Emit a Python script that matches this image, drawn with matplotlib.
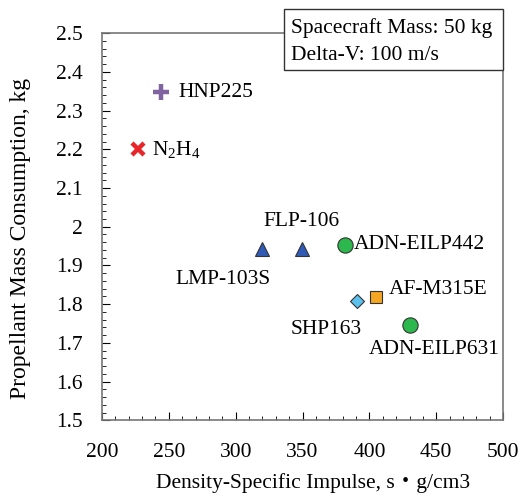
import matplotlib
matplotlib.use("Agg")
import matplotlib.pyplot as plt
from matplotlib.ticker import MultipleLocator
from matplotlib.patches import Rectangle

plt.rcParams['font.family'] = ['Liberation Serif', 'Noto Sans CJK JP']
plt.rcParams['mathtext.fontset'] = 'custom'
plt.rcParams['mathtext.rm'] = 'Liberation Serif'
plt.rcParams['mathtext.it'] = 'Liberation Serif:italic'

# propellant data: density-specific impulse vs propellant mass
names = ['HNP225', r'$\mathrm{N_2H_4}$', 'LMP-103S', 'FLP-106', 'ADN-EILP442',
         'AF-M315E', 'SHP163', 'ADN-EILP631']
isp_density = [244.5, 227, 319.5, 349.5, 382, 405, 390.5, 430.5]
prop_mass = [2.347, 2.200, 1.943, 1.943, 1.953, 1.819, 1.807, 1.747]

markers = ['+', 'x', '^', '^', 'o', 's', 'D', 'o']
colors = ['#8064A2', '#E8262A', '#2F5BB7', '#2F5BB7', '#2DB84D',
          '#F5A623', '#5BC0EB', '#2DB84D']
sizes = [11, 9, 10, 10, 11, 9, 7, 11]

# label offsets in points (dx, dy) and alignment
label_pos = [(12, 0, 'left'), (10, 0, 'left'), (-28, -22, 'center'),
             (0, 20, 'center'), (6, 0, 'left'), (9, 5, 'left'),
             (-22, -20, 'center'), (17, -18, 'center')]

fig = plt.figure(figsize=(5.23, 4.94), dpi=100)
ax = fig.add_axes([0.195, 0.149, 0.767, 0.784])

for i in range(len(names)):
    m = markers[i]
    if m in ('+', 'x'):
        ax.plot(isp_density[i], prop_mass[i], marker=m, color=colors[i],
                markersize=sizes[i], mew=3.2, linestyle='none')
    else:
        ax.plot(isp_density[i], prop_mass[i], marker=m, color=colors[i],
                markersize=sizes[i], markeredgecolor='#333333', mew=0.8,
                linestyle='none')
    dx, dy, ha = label_pos[i]
    ax.annotate(names[i], (isp_density[i], prop_mass[i]), xytext=(dx, dy),
                textcoords='offset points', ha=ha, va='center', fontsize=15.5)

ax.set_xlim(200, 500)
ax.set_ylim(1.5, 2.5)
ax.xaxis.set_major_locator(MultipleLocator(50))
ax.xaxis.set_minor_locator(MultipleLocator(10))
ax.yaxis.set_major_locator(MultipleLocator(0.1))
ax.yaxis.set_minor_locator(MultipleLocator(0.02))
ax.yaxis.set_major_formatter(plt.FuncFormatter(lambda v, p: f'{v:g}'))
ax.tick_params(which='both', direction='in', top=False, right=False,
               labelsize=15.5)
ax.tick_params(axis='x', pad=16)
ax.tick_params(axis='y', pad=14)
ax.tick_params(which='major', length=6)
ax.tick_params(which='minor', length=3)
for s in ax.spines.values():
    s.set_color('#777777')
    s.set_linewidth(1.2)

ax.set_xlabel('Density-Specific Impulse, s・g/cm3', fontsize=15.5, va='center')
ax.xaxis.set_label_coords(0.526, -0.161)
ax.set_ylabel('Propellant Mass Consumption, kg', fontsize=17, va='center')
ax.yaxis.set_label_coords(-0.204, 0.469)

# condition box (partly above the axes)
fig.patches.append(Rectangle((284 / 523, 1 - 70 / 494), 219 / 523, 61 / 494,
                             transform=fig.transFigure, fc='white',
                             ec='#333333', lw=1.0, zorder=5))
fig.text(291 / 523, 1 - 28 / 494, 'Spacecraft Mass: 50 kg', fontsize=15.5,
         ha='left', va='center', zorder=6)
fig.text(291 / 523, 1 - 55 / 494, 'Delta-V: 100 m/s', fontsize=15.5,
         ha='left', va='center', zorder=6)

fig.savefig('out.png', dpi=100)
